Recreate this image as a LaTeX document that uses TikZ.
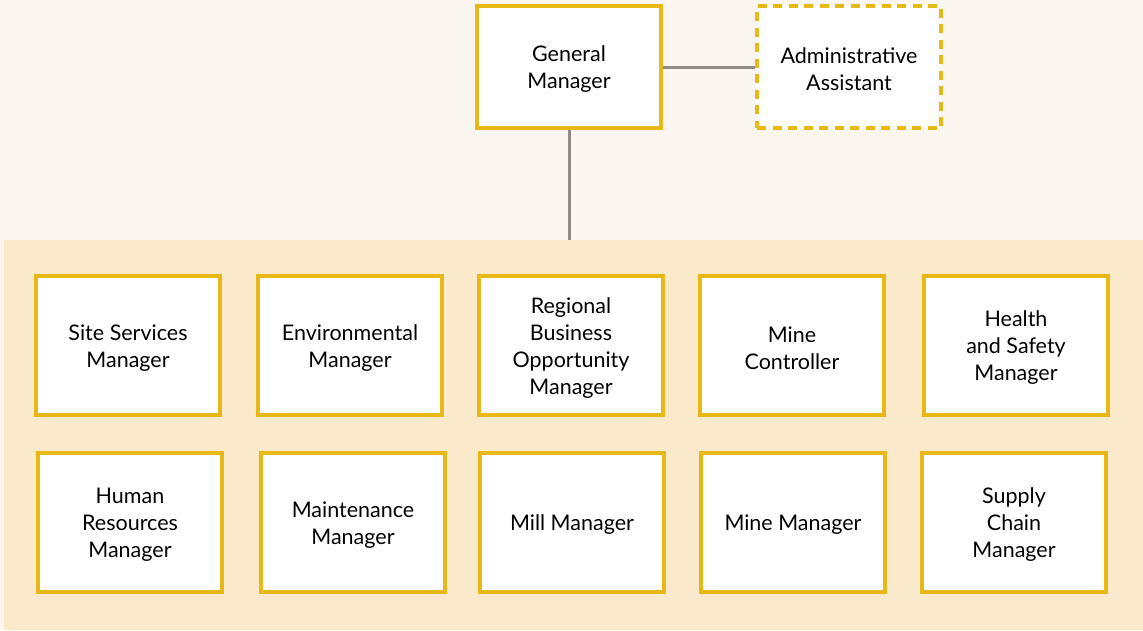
\documentclass[tikz,border=0pt]{standalone}
\usepackage{fontspec}
\setmainfont{Lato}
\definecolor{boxyellow}{HTML}{E8B816}
\definecolor{topbg}{HTML}{FBF6EF}
\definecolor{bandbg}{HTML}{FAE9CB}
\definecolor{linegrey}{HTML}{8E8A86}
\newcommand{\firstln}{\rule{0pt}{20.5pt}}
\begin{document}
\begin{tikzpicture}[x=1pt,y=-1pt,
  rolebox/.style={draw=boxyellow,line width=4pt,fill=white,minimum width=184pt,minimum height=139pt,align=center,font=\fontsize{21.5}{27}\selectfont,text=black,inner sep=2pt},
  topbox/.style={rolebox,minimum height=122pt},
  dashedbox/.style={topbox,dash pattern=on 9pt off 6.5pt},
  link/.style={draw=linegrey,line width=3pt}]
\fill[topbg] (0,0) rectangle (1143,630);
\fill[bandbg] (4,240) rectangle (1143,630);
\useasboundingbox (0,0) rectangle (1143,630);
% top
\node[topbox] (gm) at (569,67) {\firstln General\\Manager};
\node[dashedbox] (aa) at (849,67) {\firstln Administrative\\Assistant};
\coordinate (bandtop) at (569,240);
\draw[link] (gm.east) -- (aa.west);
\draw[link] (gm.south) -- (bandtop);
% row 1
\node[rolebox] (ss) at (128,345.5) {\firstln Site Services\\Manager};
\node[rolebox] (env) at (350,345.5) {\firstln Environmental\\Manager};
\node[rolebox] (rbo) at (571,345.5) {\firstln Regional\\Business\\Opportunity\\Manager};
\node[rolebox] (mc) at (792,345.5) {\firstln Mine\\Controller};
\node[rolebox] (hs) at (1016,345.5) {\firstln Health\\and Safety\\Manager};
% row 2
\node[rolebox] (hr) at (130,522.5) {\firstln Human\\Resources\\Manager};
\node[rolebox] (mm) at (353,522.5) {\firstln Maintenance\\Manager};
\node[rolebox] (mill) at (572,522.5) {\firstln Mill Manager};
\node[rolebox] (mine) at (793,522.5) {\firstln Mine Manager};
\node[rolebox] (sc) at (1014,522.5) {\firstln Supply\\Chain\\Manager};
\end{tikzpicture}
\end{document}
